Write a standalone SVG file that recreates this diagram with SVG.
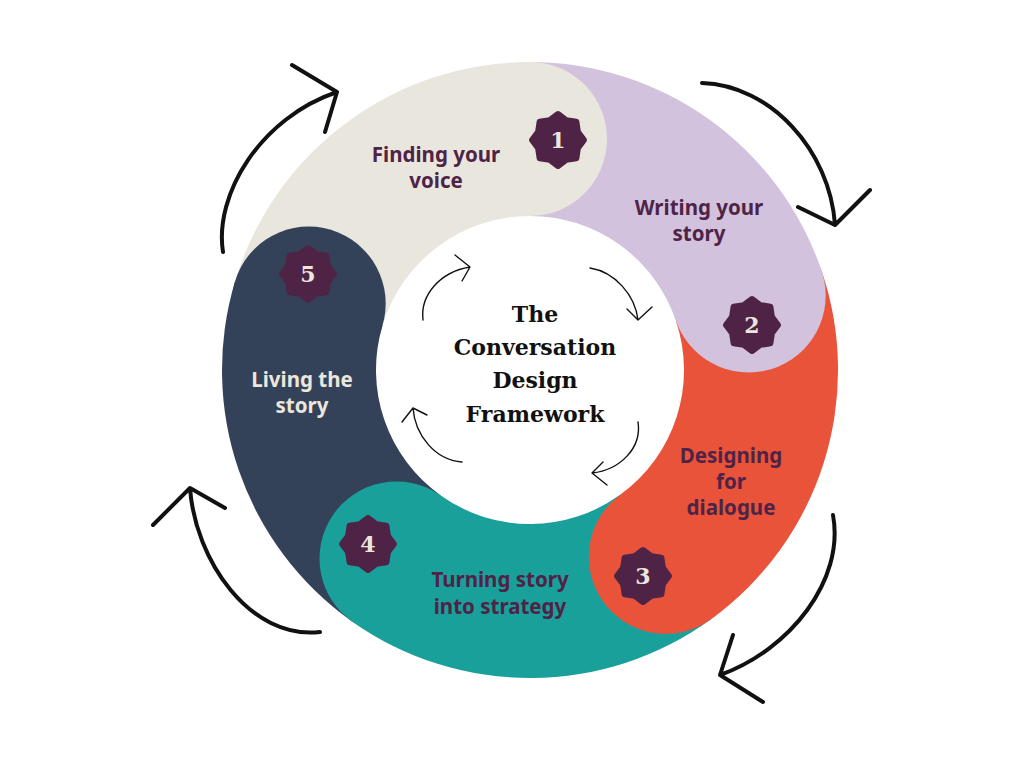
<svg xmlns="http://www.w3.org/2000/svg" width="1024" height="768" viewBox="0 0 1024 768">
<style>
.lbl{font-family:"Noto Sans",Lato,sans-serif;font-weight:700;font-size:20.5px;text-anchor:middle;fill:#4f2346}
.cream{fill:#ece6dc}
.title{font-family:"DejaVu Serif",serif;font-weight:700;font-size:22px;text-anchor:middle;fill:#111}
.num{font-family:"DejaVu Serif",serif;font-weight:700;font-size:22px;text-anchor:middle;fill:#ece6dc}
.big{fill:none;stroke:#111;stroke-width:4;stroke-linecap:round;stroke-linejoin:round}
.small{fill:none;stroke:#111;stroke-width:1.4;stroke-linecap:round;stroke-linejoin:round}
.badge{fill:#4f2346;stroke:#4f2346;stroke-width:6;stroke-linejoin:round}
</style>
<defs>
<polygon id="star" points="0,-26 8.23,-19.86 18.38,-18.38 19.86,-8.23 26,0 19.86,8.23 18.38,18.38 8.23,19.86 0,26 -8.23,19.86 -18.38,18.38 -19.86,8.23 -26,0 -19.86,-8.23 -18.38,-18.38 -8.23,-19.86"/>
</defs>
<rect width="1024" height="768" fill="#fff"/>
<g id="bands">
<path fill="#d2c2dd" d="M530,62 A308,308 0 0 1 821.6,270.7 L675.8,320.4 A154,154 0 0 0 530,216 Z"/>
<path fill="#e8533a" d="M821.6,270.7 A308,308 0 0 1 711,619.2 L620.5,494.6 A154,154 0 0 0 675.8,320.4 Z"/>
<path fill="#1aa09b" d="M711,619.2 A308,308 0 0 1 352,621.4 L441,495.7 A154,154 0 0 0 620.5,494.6 Z"/>
<path fill="#344259" d="M352,621.4 A308,308 0 0 1 235,281.5 L382.5,325.7 A154,154 0 0 0 441,495.7 Z"/>
<path fill="#e9e6de" d="M235,281.5 A308,308 0 0 1 530,62 L530,216 A154,154 0 0 0 382.5,325.7 Z"/>
</g>
<g id="node1">
<circle cx="530" cy="139" r="77" fill="#e9e6de"/>
<use href="#star" class="badge" transform="translate(558,140)"/>
<text class="num" x="558" y="148">1</text>
<text class="lbl" x="436" y="162">Finding your</text>
<text class="lbl" x="436" y="188">voice</text>
</g>
<g id="node2">
<circle cx="748.7" cy="295.5" r="77" fill="#d2c2dd"/>
<use href="#star" class="badge" transform="translate(752,325)"/>
<text class="num" x="752" y="333">2</text>
<text class="lbl" x="699" y="215">Writing your</text>
<text class="lbl" x="699" y="241">story</text>
</g>
<g id="node3">
<circle cx="665.8" cy="556.9" r="77" fill="#e8533a"/>
<use href="#star" class="badge" transform="translate(643,576)"/>
<text class="num" x="643" y="584">3</text>
<text class="lbl" x="731" y="463">Designing</text>
<text class="lbl" x="731" y="489">for</text>
<text class="lbl" x="731" y="515">dialogue</text>
</g>
<g id="node4">
<circle cx="396.5" cy="558.5" r="77" fill="#1aa09b"/>
<use href="#star" class="badge" transform="translate(368,544)"/>
<text class="num" x="368" y="552">4</text>
<text class="lbl" x="500" y="587" font-size="20">Turning story</text>
<text class="lbl" x="500" y="614" font-size="20">into strategy</text>
</g>
<g id="node5">
<circle cx="308.7" cy="303.6" r="77" fill="#344259"/>
<use href="#star" class="badge" transform="translate(308,274)"/>
<text class="num" x="308" y="282">5</text>
<text class="lbl cream" x="302" y="387">Living the</text>
<text class="lbl cream" x="302" y="413">story</text>
</g>
<g id="center">
<text class="title" x="535" y="322">The</text>
<text class="title" x="535" y="355">Conversation</text>
<text class="title" x="535" y="388">Design</text>
<text class="title" x="535" y="422">Framework</text>
</g>
<g id="connectors">
<path class="big" d="M223,252 C214,195 260,118 337,92 M292,65 L337,92 L325,132"/>
<path class="big" d="M702,83 C770,85 830,150 835,225 M798,207 L835,225 L870,190"/>
<path class="big" d="M833,515 C845,580 790,650 720,675 M733,635 L720,675 L763,702"/>
<path class="big" d="M320,632 C250,640 195,560 190,488 M153,525 L190,488 L225,508"/>
<path class="small" d="M423,320 C420,295 440,272 470,267 M455,255 L470,267 L462,281"/>
<path class="small" d="M590,268 C615,272 635,295 638,320 M627,309 L638,320 L652,307"/>
<path class="small" d="M638,422 C642,448 620,470 592,473 M603,462 L592,473 L607,485"/>
<path class="small" d="M462,462 C435,460 415,435 413,408 M402,422 L413,408 L427,415"/>
</g>
</svg>
